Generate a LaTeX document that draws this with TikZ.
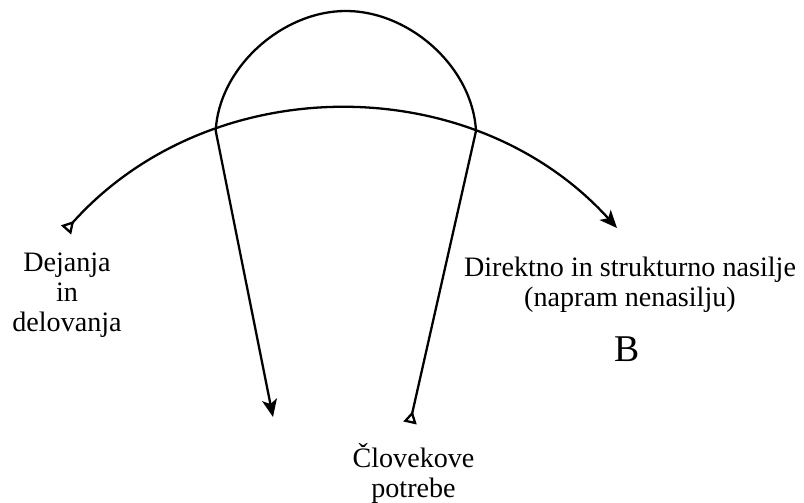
\documentclass[tikz,border=0pt]{standalone}
\usepackage{fontspec}
\setmainfont{Liberation Serif}
\usepackage{tikz}
\usetikzlibrary{positioning, arrows.meta}

\begin{document}
\begin{tikzpicture}[
      every node/.style={font=\fontsize{16}{17}\selectfont, align=center, inner sep=0pt},
      big/.style={font=\fontsize{21.5}{24}\selectfont},
      flow/.style={line width=1.3pt,
        {Triangle[open, reversed, length=7pt, width=7.5pt]}-{Stealth[length=10pt, width=8.5pt, inset=2.5pt]}},
    ]
    \useasboundingbox (0,0) rectangle (16.08,10.04);

    % arc ends and dome joints
    \coordinate (actTail) at (1.32, 5.44);
    \coordinate (violTip) at (12.34, 5.48);
    \coordinate (needTail) at (8.2, 1.58);
    \coordinate (rJoin) at (9.52, 7.42);
    \coordinate (domeTop) at (6.916, 9.82);
    \coordinate (lJoin) at (4.314, 7.426);
    \coordinate (actTip) at (5.46, 1.70);

    \node (acts) at (1.34, 4.14) {Dejanja\\in\\delovanja};
    \node (viol) at (12.6, 4.34) {Direktno in strukturno nasilje\\(napram nenasilju)};
    \node[big] (b) at (12.54, 3.05) {B};
    \node (needs) at (8.27, 0.58) {Človekove\\potrebe};

    \draw[flow] (actTail) to[bend left=48] (violTip);
    \draw[flow] (needTail) -- (rJoin)
      to[out=93, in=0, looseness=0.92] (domeTop)
      to[out=180, in=87, looseness=0.92] (lJoin) -- (actTip);
  \end{tikzpicture}
\end{document}
